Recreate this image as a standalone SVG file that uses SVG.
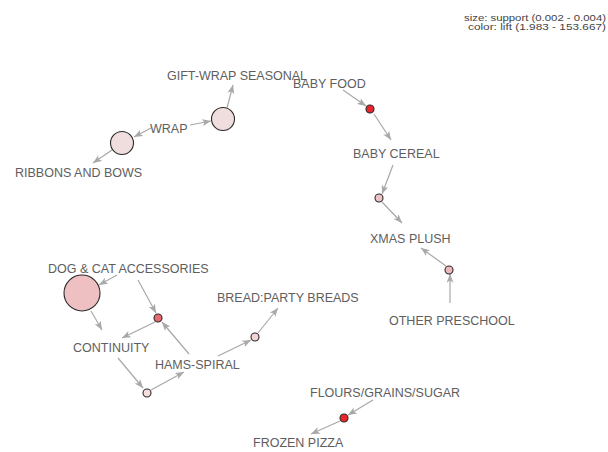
<svg xmlns="http://www.w3.org/2000/svg" width="608" height="452" viewBox="0 0 608 452">
  <defs>
    <marker id="arrow" viewBox="0 0 10 8" refX="10" refY="4" markerWidth="9" markerHeight="7" markerUnits="userSpaceOnUse" orient="auto">
      <path d="M0,0 L10,4 L0,8 L2.5,4 z" fill="#a8a8a8"/>
    </marker>
  </defs>
  <style>
    .lbl { font-family: "Liberation Sans", Arial, sans-serif; font-size: 12.5px; fill: #5e5e5e; }
    .leg { font-family: "Liberation Sans", Arial, sans-serif; font-size: 9px; fill: #444; }
    .edge { stroke: #a8a8a8; stroke-width: 1.2; fill: none; marker-end: url(#arrow); }
    .node { stroke: #2a2a2a; stroke-width: 1.1; }
  </style>
  <rect width="608" height="452" fill="#ffffff"/>

  <!-- legend -->
  <g id="legend">
    <text class="leg" x="606" y="21" text-anchor="end" textLength="142" lengthAdjust="spacingAndGlyphs">size: support (0.002 - 0.004)</text>
    <text class="leg" x="606" y="30" text-anchor="end" textLength="138" lengthAdjust="spacingAndGlyphs">color: lift (1.983 - 153.667)</text>
  </g>

  <!-- connectors -->
  <g id="edges">
    <line class="edge" x1="151" y1="128" x2="134" y2="137"/>
    <line class="edge" x1="190" y1="125" x2="211" y2="121"/>
    <line class="edge" x1="227" y1="108" x2="233" y2="85"/>
    <line class="edge" x1="112" y1="150" x2="93" y2="163"/>
    <line class="edge" x1="343" y1="90" x2="366" y2="106"/>
    <line class="edge" x1="374" y1="114" x2="391" y2="140"/>
    <line class="edge" x1="393" y1="165" x2="382" y2="194"/>
    <line class="edge" x1="382" y1="202" x2="402" y2="223"/>
    <line class="edge" x1="446" y1="266" x2="421" y2="248"/>
    <line class="edge" x1="450" y1="303" x2="450" y2="274"/>
    <line class="edge" x1="117" y1="275" x2="99" y2="285"/>
    <line class="edge" x1="91" y1="311" x2="102" y2="330"/>
    <line class="edge" x1="138" y1="280" x2="156" y2="313"/>
    <line class="edge" x1="155" y1="322" x2="122" y2="338"/>
    <line class="edge" x1="189" y1="354" x2="162" y2="322"/>
    <line class="edge" x1="118" y1="358" x2="143" y2="388"/>
    <line class="edge" x1="151" y1="390" x2="184" y2="372"/>
    <line class="edge" x1="218" y1="356" x2="251" y2="340"/>
    <line class="edge" x1="258" y1="333" x2="278" y2="308"/>
    <line class="edge" x1="373" y1="400" x2="348" y2="415"/>
    <line class="edge" x1="340" y1="421" x2="311" y2="434"/>
  </g>

  <!-- rule nodes (circles) -->
  <g id="rule-wrap-ribbons"><circle class="node" cx="122" cy="143" r="11.5" fill="#f0dede"/></g>
  <g id="rule-wrap-giftwrap"><circle class="node" cx="223" cy="119" r="11.5" fill="#f0dede"/></g>
  <g id="rule-babyfood"><circle class="node" cx="370" cy="109" r="4" fill="#e8262c"/></g>
  <g id="rule-babycereal"><circle class="node" cx="379" cy="198" r="4" fill="#f0c4c6"/></g>
  <g id="rule-preschool"><circle class="node" cx="449" cy="270" r="4" fill="#ebb8bb"/></g>
  <g id="rule-dogcat"><circle class="node" cx="82" cy="293" r="18" fill="#efc0c2"/></g>
  <g id="rule-hams-continuity"><circle class="node" cx="158" cy="318" r="4" fill="#e66a6e"/></g>
  <g id="rule-hams-bread"><circle class="node" cx="255" cy="337" r="4" fill="#f3d4d5"/></g>
  <g id="rule-continuity-hams"><circle class="node" cx="147" cy="393" r="4" fill="#f5dcdd"/></g>
  <g id="rule-flours"><circle class="node" cx="344" cy="418" r="4" fill="#e8262c"/></g>

  <!-- item nodes (labels) -->
  <g id="item-giftwrap"><text class="lbl" x="167" y="80">GIFT-WRAP SEASONAL</text></g>
  <g id="item-babyfood"><text class="lbl" x="293" y="88">BABY FOOD</text></g>
  <g id="item-wrap"><text class="lbl" x="150" y="133">WRAP</text></g>
  <g id="item-ribbons"><text class="lbl" x="15" y="177">RIBBONS AND BOWS</text></g>
  <g id="item-babycereal"><text class="lbl" x="353" y="158">BABY CEREAL</text></g>
  <g id="item-xmasplush"><text class="lbl" x="370" y="243">XMAS PLUSH</text></g>
  <g id="item-preschool"><text class="lbl" x="389" y="325">OTHER PRESCHOOL</text></g>
  <g id="item-dogcat"><text class="lbl" x="48" y="273">DOG &amp; CAT ACCESSORIES</text></g>
  <g id="item-bread"><text class="lbl" x="217" y="302">BREAD:PARTY BREADS</text></g>
  <g id="item-continuity"><text class="lbl" x="73" y="352">CONTINUITY</text></g>
  <g id="item-hams"><text class="lbl" x="155" y="369">HAMS-SPIRAL</text></g>
  <g id="item-flours"><text class="lbl" x="310" y="397">FLOURS/GRAINS/SUGAR</text></g>
  <g id="item-frozenpizza"><text class="lbl" x="253" y="447">FROZEN PIZZA</text></g>
</svg>
